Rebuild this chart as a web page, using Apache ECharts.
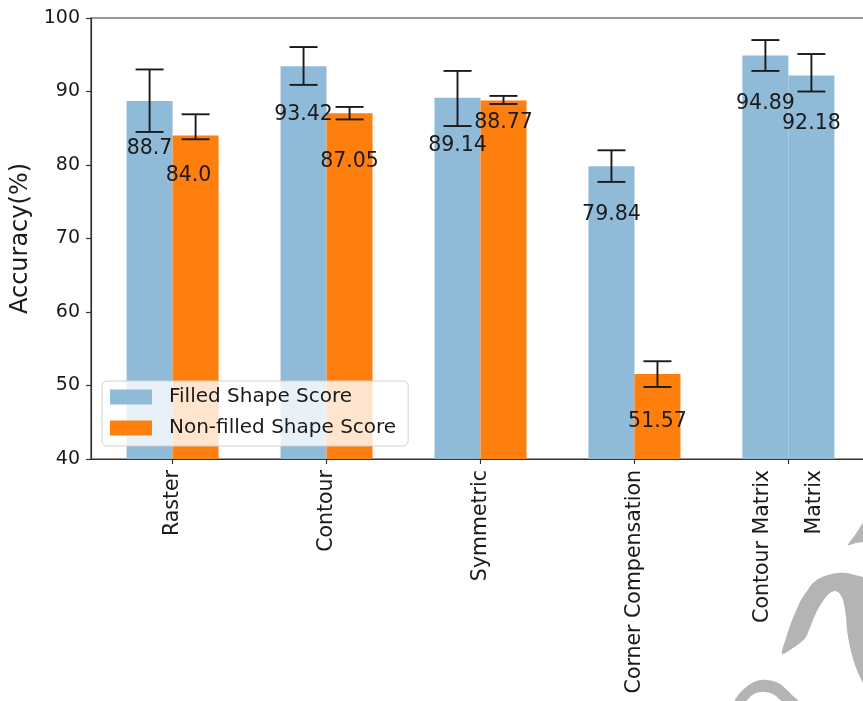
<!DOCTYPE html>
<html>
<head>
<meta charset="utf-8">
<script src="https://cdn.jsdelivr.net/npm/echarts@6/dist/echarts.min.js"></script>
<style>
  html, body { margin: 0; padding: 0; background: #ffffff; }
  #chart { width: 863px; height: 701px; }
</style>
</head>
<body>
<div id="chart"></div>
<script>
// ---- data ----
const tickLabels = ['Raster', 'Contour', 'Symmetric', 'Corner Compensation', 'Contour Matrix\nMatrix'];

const filledNames = ['Raster', 'Contour', 'Symmetric', 'Corner Compensation', 'Contour Matrix'];
const filledScores = [88.7, 93.42, 89.14, 79.84, 94.89];
const filledErrLow = [84.5, 90.9, 85.3, 77.7, 92.8];
const filledErrHigh = [93.0, 96.05, 92.8, 82.0, 97.0];

const nonFilledNames = ['Raster', 'Contour', 'Symmetric', 'Corner Compensation', 'Matrix'];
const nonFilledScores = [84.0, 87.05, 88.77, 51.57, 92.18];
const nonFilledErrLow = [83.5, 86.2, 88.3, 49.8, 90.0];
const nonFilledErrHigh = [86.9, 87.9, 89.4, 53.3, 95.1];

const yTicks = [40, 50, 60, 70, 80, 90, 100];

// ---- styling ----
const FONT = 'DejaVu Sans';
const BLUE = '#8fbbd9';
const ORANGE = '#ff7f0e';
const INK = '#1a1a1a';
const SPINE = '#333333';
const BAR_W = 46;
const CAP_HALF = 14;

// the Matrix result sits in the second slot but is a filled-shape score
const blueInSecondSeries = new Set(['Matrix']);

// label placement tweaks (distance below bar top, horizontal nudge)
const labelTweaks = {
  nonFilled: { 0: { distance: 30, offset: [-7, 0] }, 2: { distance: 12, offset: [0, 0] } }
};

function fmt(v) {
  return Number.isInteger(v) ? v.toFixed(1) : String(v);
}

function barData(scores, names, key) {
  return scores.map((v, i) => {
    const item = { value: [i, v], name: names[i] };
    const t = (labelTweaks[key] || {})[i];
    if (t) item.label = { distance: t.distance, offset: t.offset };
    if (key === 'nonFilled' && blueInSecondSeries.has(names[i])) {
      item.itemStyle = { color: BLUE };
    }
    return item;
  });
}

function errData(low, high, side) {
  return low.map((lo, i) => [i, lo, high[i], side]);
}

const labelStyle = {
  show: true,
  position: 'insideTop',
  distance: 38,
  fontFamily: FONT,
  fontSize: 20.5,
  lineHeight: 20,
  color: INK,
  formatter: p => fmt(p.value[1])
};

function renderErr(params, api) {
  const x = api.value(0), lo = api.value(1), hi = api.value(2), side = api.value(3);
  const pLo = api.coord([x, lo]);
  const pHi = api.coord([x, hi]);
  const cx = pLo[0] + side * BAR_W / 2;
  const style = { stroke: INK, lineWidth: 1.9 };
  return {
    type: 'group',
    children: [
      { type: 'line', shape: { x1: cx, y1: pLo[1], x2: cx, y2: pHi[1] }, style },
      { type: 'line', shape: { x1: cx - CAP_HALF, y1: pHi[1], x2: cx + CAP_HALF, y2: pHi[1] }, style },
      { type: 'line', shape: { x1: cx - CAP_HALF, y1: pLo[1], x2: cx + CAP_HALF, y2: pLo[1] }, style }
    ]
  };
}

const tickPositions = tickLabels.map((_, i) => i);

// light grey strokes in the lower right corner
const watermarkShapes = [
  [[782, 654], [786, 638], [791, 623], [796, 611], [801, 600], [807, 591], [813, 583], [820, 578],
   [828, 575], [837, 573], [846, 573], [855, 575], [863, 577], [870, 580],
   [870, 694], [860, 677], [854, 662], [850, 647], [847, 630], [846, 617], [843, 600], [839, 593],
   [835, 591], [830, 593], [826, 597], [821, 604], [816, 613], [811, 625], [806, 637], [800, 643], [793, 648]],
  [[735, 701], [739, 694], [745, 688], [752, 683], [760, 680], [767, 680], [773, 681], [780, 684],
   [786, 689], [792, 695], [798, 701], [782, 701], [776, 696], [770, 693], [763, 692], [756, 693],
   [750, 697], [746, 701]],
  [[848, 545], [855, 535], [863, 523], [870, 515], [870, 540], [856, 543]]
];

const option = {
  animation: false,
  backgroundColor: '#ffffff',
  grid: {
    left: 91, top: 18, width: 779, height: 441,
    outerBoundsMode: 'none',
    containLabel: false,
    show: true, borderColor: SPINE, borderWidth: 1.2, backgroundColor: 'transparent'
  },
  legend: {
    orient: 'vertical',
    left: 102, top: 381,
    padding: [6, 12, 8, 8],
    itemWidth: 42, itemHeight: 15, itemGap: 11,
    icon: 'rect',
    backgroundColor: 'rgba(255,255,255,0.8)',
    borderColor: '#d0d0d0', borderWidth: 1, borderRadius: 5,
    textStyle: { fontFamily: FONT, fontSize: 20, lineHeight: 20, color: INK, padding: [0, 0, 0, 12] },
    data: ['Filled Shape Score', 'Non-filled Shape Score']
  },
  xAxis: {
    type: 'value',
    min: -0.53, max: 4.53,
    splitLine: { show: false },
    axisLine: { show: true, onZero: false, lineStyle: { color: SPINE, width: 1.2 } },
    axisTick: { show: true, length: 5, customValues: tickPositions, lineStyle: { color: SPINE, width: 1.2 } },
    axisLabel: {
      customValues: tickPositions,
      rotate: 90,
      margin: 11,
      fontFamily: FONT, fontSize: 20.5, lineHeight: 52, color: INK,
      formatter: v => tickLabels[Math.round(v)] || ''
    }
  },
  yAxis: {
    type: 'value',
    min: yTicks[0], max: yTicks[yTicks.length - 1], interval: yTicks[1] - yTicks[0],
    name: 'Accuracy(%)',
    nameLocation: 'middle',
    nameGap: 54,
    nameTextStyle: { fontFamily: FONT, fontSize: 24, color: INK },
    splitLine: { show: false },
    axisLine: { show: true, onZero: false, lineStyle: { color: SPINE, width: 1.2 } },
    axisTick: { show: true, length: 5, lineStyle: { color: SPINE, width: 1.2 } },
    axisLabel: { margin: 11, fontFamily: FONT, fontSize: 19, color: INK }
  },
  series: [
    {
      name: 'Filled Shape Score',
      type: 'bar',
      barWidth: BAR_W,
      barGap: '0%',
      itemStyle: { color: BLUE },
      label: labelStyle,
      data: barData(filledScores, filledNames, 'filled'),
      z: 2
    },
    {
      name: 'Non-filled Shape Score',
      type: 'bar',
      barWidth: BAR_W,
      barGap: '0%',
      itemStyle: { color: ORANGE },
      label: labelStyle,
      data: barData(nonFilledScores, nonFilledNames, 'nonFilled'),
      z: 2
    },
    {
      type: 'custom',
      renderItem: renderErr,
      data: errData(filledErrLow, filledErrHigh, -1),
      z: 3,
      silent: true
    },
    {
      type: 'custom',
      renderItem: renderErr,
      data: errData(nonFilledErrLow, nonFilledErrHigh, 1),
      z: 3,
      silent: true
    }
  ],
  graphic: watermarkShapes.map(pts => ({
    type: 'polygon',
    shape: { points: pts, smooth: 0.3 },
    style: { fill: '#b4b4b4' },
    z: 1,
    silent: true
  }))
};

const chart = echarts.init(document.getElementById('chart'), null, { renderer: 'canvas' });
chart.setOption(option);
</script>
</body>
</html>
